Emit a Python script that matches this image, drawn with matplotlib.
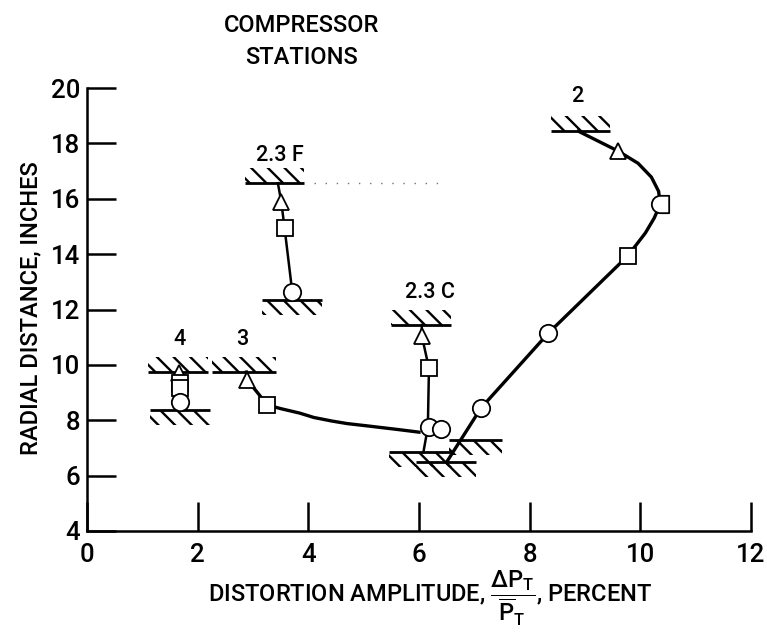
import matplotlib
matplotlib.use('Agg')
import matplotlib.pyplot as plt
from matplotlib.patches import Rectangle
from matplotlib.path import Path
import numpy as np

plt.rcParams['font.family'] = ['Roboto', 'DejaVu Sans']
plt.rcParams['font.weight'] = 'medium'
plt.rcParams['mathtext.fontset'] = 'custom'
plt.rcParams['mathtext.rm'] = 'Roboto:medium'
plt.rcParams['mathtext.it'] = 'Roboto:medium'
plt.rcParams['hatch.linewidth'] = 1.7

# --- data ---

# casing walls at each station: x start, x end, radius, hatch side (+1 above, -1 below)
wall_x0 = [1.10, 1.14, 2.25, 6.54, 2.85, 3.17, 5.50, 5.46, 8.38, 5.95]
wall_x1 = [2.18, 2.22, 3.42, 7.50, 3.93, 4.25, 6.58, 6.60, 9.46, 7.03]
wall_r = [9.74, 8.37, 9.74, 7.29, 16.56, 12.34, 11.44, 6.85, 18.44, 6.49]
wall_side = [1, -1, 1, -1, 1, -1, 1, -1, 1, -1]

# faired curves
line_23f_x = [3.45, 3.51, 3.57, 3.71]
line_23f_r = [16.56, 15.90, 14.95, 12.63]
line_23c_x = [6.05, 6.05, 6.18, 6.16, 6.08]
line_23c_r = [11.44, 11.06, 9.88, 7.75, 6.85]
line_3_x = [2.88, 2.90, 3.26, 3.50, 3.84, 4.10, 4.43, 4.70, 5.05, 5.64, 6.00]
line_3_r = [9.74, 9.45, 8.55, 8.42, 8.26, 8.10, 7.97, 7.88, 7.80, 7.66, 7.57]
line_2_x = [6.50, 7.12, 8.34, 9.77, 10.09, 10.25, 10.36, 10.33, 10.20, 9.96, 9.60, 8.88]
line_2_r = [6.49, 8.44, 11.15, 13.93, 14.76, 15.30, 15.80, 16.27, 16.78, 17.28, 17.72, 18.44]

# data symbols
tri_x = [1.66, 2.90, 3.51, 6.05, 9.60]
tri_r = [9.72, 9.45, 15.90, 11.06, 17.72]
sq_x = [1.68, 1.68, 3.26, 3.57, 6.18, 9.77]
sq_r = [9.36, 9.18, 8.55, 14.95, 9.88, 13.93]
circ_x = [1.68, 3.71, 6.18, 6.40, 7.12, 8.34]
circ_r = [8.66, 12.63, 7.75, 7.68, 8.44, 11.15]
half_x = [10.36]
half_r = [15.80]

# station names
stn_names = ['4', '3', '2.3 F', '2.3 C', '2']
stn_x = [1.68, 2.81, 3.48, 6.20, 8.86]
stn_r = [10.90, 10.90, 17.57, 12.63, 19.70]

# faint dotted trace in the scan
trace_x = [4.10, 6.45]
trace_r = [16.56, 16.56]

x_ticks = [0, 2, 4, 6, 8, 10, 12]
y_ticks = [4, 6, 8, 10, 12, 14, 16, 18, 20]

# --- plot ---

fig = plt.figure(figsize=(7.67, 6.4), dpi=100)
ax = fig.add_axes([87 / 767, 1 - 531 / 640, (751 - 87) / 767, (531 - 88) / 640])
ax.set_xlim(0, 12)
ax.set_ylim(4, 20)

for x0, x1, r, side in zip(wall_x0, wall_x1, wall_r, wall_side):
    ax.plot([x0, x1], [r, r], color='black', lw=2.0, solid_capstyle='butt', zorder=3)
    ax.add_patch(Rectangle((x0, r), x1 - x0, 0.55 * side, facecolor='none',
                           edgecolor='black', lw=0, hatch='\\\\', zorder=2))

ax.plot(trace_x, trace_r, color='0.45', lw=1.0, ls=(0, (1, 7)), zorder=1)

ax.plot(line_23f_x, line_23f_r, color='black', lw=1.8, zorder=3)
ax.plot(line_23c_x, line_23c_r, color='black', lw=1.8, zorder=3)
ax.plot(line_3_x, line_3_r, color='black', lw=2.4, zorder=3, solid_joinstyle='round')
ax.plot(line_2_x, line_2_r, color='black', lw=2.4, zorder=3, solid_joinstyle='round')

# half circle / half square symbol
arc = Path.arc(90, 270)
half_verts = np.vstack([arc.vertices, [[1, -1], [1, 1], [0, 1]]])
half_codes = list(arc.codes) + [Path.LINETO, Path.LINETO, Path.LINETO]
half_marker = Path(half_verts, half_codes)

mk = dict(linestyle='none', markerfacecolor='white', markeredgecolor='black',
          markeredgewidth=1.3, zorder=4)
ax.plot(tri_x, tri_r, marker='^', markersize=12, **mk)
ax.plot(sq_x, sq_r, marker='s', markersize=11.5, **mk)
ax.plot(circ_x, circ_r, marker='o', markersize=12.5, **mk)
ax.plot(half_x, half_r, marker=half_marker, markersize=12.5, **mk)

for name, x, r in zip(stn_names, stn_x, stn_r):
    ax.text(x, r, name, ha='center', va='center', fontsize=15.5)

ax.spines['top'].set_visible(False)
ax.spines['right'].set_visible(False)
ax.spines['left'].set_linewidth(1.8)
ax.spines['bottom'].set_linewidth(1.8)
ax.set_xticks(x_ticks)
ax.set_yticks(y_ticks)
ax.tick_params(direction='in', length=21, width=1.8, labelsize=18.5)
ax.tick_params(axis='x', pad=9)
ax.tick_params(axis='y', pad=5)

fig.text(302 / 767, 1 - 26 / 640, 'COMPRESSOR', ha='center', va='center', fontsize=17)
fig.text(302 / 767, 1 - 58 / 640, 'STATIONS', ha='center', va='center', fontsize=17)
fig.text(31 / 767, 1 - 308 / 640, 'RADIAL DISTANCE, INCHES', rotation=90,
         ha='center', va='center', fontsize=17)
fig.text(208 / 767, 1 - 602 / 640,
         r'DISTORTION AMPLITUDE, $\dfrac{\Delta\mathrm{P}_\mathrm{T}}{\overline{\mathrm{P}}_\mathrm{T}}$, PERCENT',
         ha='left', va='baseline', fontsize=17)

fig.savefig('out.png', dpi=100)
